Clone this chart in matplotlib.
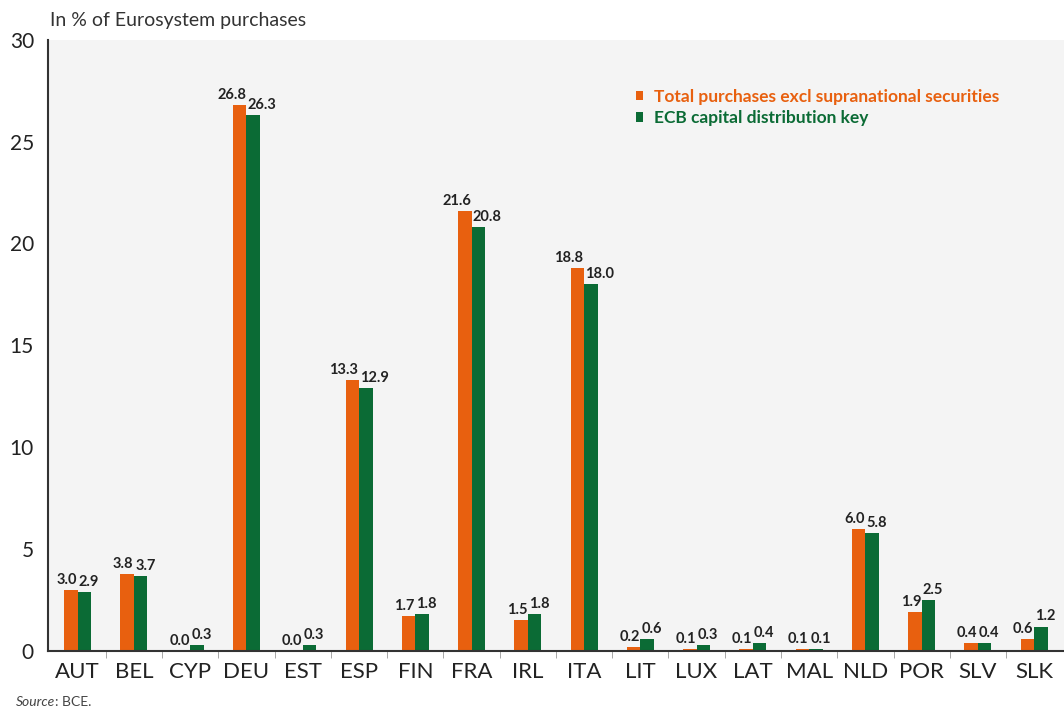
import numpy as np
import matplotlib.pyplot as plt
from matplotlib.ticker import FixedLocator

# Data
countries = ["AUT", "BEL", "CYP", "DEU", "EST", "ESP", "FIN", "FRA", "IRL",
             "ITA", "LIT", "LUX", "LAT", "MAL", "NLD", "POR", "SLV", "SLK"]
purchases = [3.0, 3.8, 0.0, 26.8, 0.0, 13.3, 1.7, 21.6, 1.5,
             18.8, 0.2, 0.1, 0.1, 0.1, 6.0, 1.9, 0.4, 0.6]
capital_key = [2.9, 3.7, 0.3, 26.3, 0.3, 12.9, 1.8, 20.8, 1.8,
               18.0, 0.6, 0.3, 0.4, 0.1, 5.8, 2.5, 0.4, 1.2]

orange = "#e8600f"
green = "#0b6b35"

plt.rcParams['font.family'] = ['Lato', 'DejaVu Sans']

fig = plt.figure(figsize=(10.64, 7.15), dpi=100)
fig.patch.set_facecolor("white")
ax = fig.add_axes([0.045, 0.0895, 0.955, 0.855])
ax.set_facecolor("#f4f4f4")

x = np.arange(len(countries))
w = 0.24
ax.bar(x - w / 2, purchases, w, color=orange, label="Total purchases excl supranational securities")
ax.bar(x + w / 2, capital_key, w, color=green, label="ECB capital distribution key")

# value labels: orange one to the left of the group centre, green one to the right
for xi, v in zip(x, purchases):
    ax.text(xi - 0.01, v + 0.15, f"{v:.1f}", ha="right", va="bottom",
            fontsize=10.5, fontweight="bold", color="#222222")
for xi, v in zip(x, capital_key):
    ax.text(xi + 0.02, v + 0.15, f"{v:.1f}", ha="left", va="bottom",
            fontsize=10.5, fontweight="bold", color="#222222")

ax.set_xlim(-0.53, len(countries) - 0.47)
ax.set_ylim(0, 30)
ax.set_yticks(range(0, 31, 5))
ax.tick_params(axis="y", length=0, labelsize=15, pad=10, colors="#222222")
ax.set_xticks(x)
ax.set_xticklabels(countries)
ax.tick_params(axis="x", which="major", length=0, labelsize=16, pad=8, colors="#222222")
ax.xaxis.set_minor_locator(FixedLocator(x[:-1] + 0.5))
ax.tick_params(axis="x", which="minor", length=5, color="#999999", direction="out")

for s in ["top", "right"]:
    ax.spines[s].set_visible(False)
for s in ["left", "bottom"]:
    ax.spines[s].set_color("#333333")
    ax.spines[s].set_linewidth(1.5)

leg = ax.legend(loc="upper left", bbox_to_anchor=(0.563, 0.945), frameon=False,
                handlelength=0.45, handleheight=0.45, handletextpad=0.6,
                fontsize=12.5, labelspacing=0.3)
for text, c in zip(leg.get_texts(), [orange, green]):
    text.set_color(c)
    text.set_fontweight("bold")

fig.text(0.047, 0.963, "In % of Eurosystem purchases", fontsize=14, color="#333333")

src = fig.text(0.015, 0.012, "Source", fontsize=10, style="italic", color="#444444")
fig.canvas.draw()
bb = src.get_window_extent().transformed(fig.transFigure.inverted())
fig.text(bb.x1, 0.012, ": BCE.", fontsize=10, color="#444444")

fig.savefig("out.png", dpi=100)
